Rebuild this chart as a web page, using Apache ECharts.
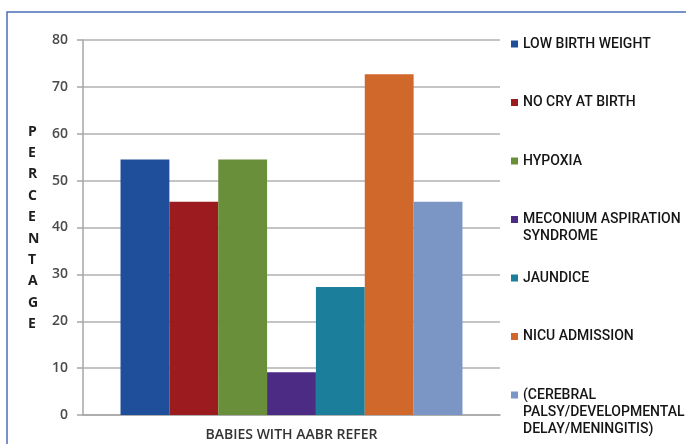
<!DOCTYPE html>
<html>
<head>
<meta charset="utf-8">
<script src="https://cdn.jsdelivr.net/npm/echarts@6/dist/echarts.min.js"></script>
<style>
  html, body { margin: 0; padding: 0; background: #ffffff; }
  #chart { width: 686px; height: 444px; }
</style>
</head>
<body>
<div id="chart"></div>
<script>
// Category on the x axis
const categories = ['BABIES WITH AABR REFER'];

// One series per risk factor (legend entries, multi-line names use \n)
const seriesNames = [
  'LOW BIRTH WEIGHT',
  'NO CRY AT BIRTH',
  'HYPOXIA',
  'MECONIUM ASPIRATION\nSYNDROME',
  'JAUNDICE',
  'NICU ADMISSION',
  '(CEREBRAL\nPALSY/DEVELOPMENTAL\nDELAY/MENINGITIS)'
];

// Percentage of babies with AABR refer result
const seriesValues = [54.5, 45.5, 54.5, 9.1, 27.3, 72.7, 45.5];

// Value axis ticks
const yMin = 0;
const yMax = 80;
const yStep = 10;

const seriesColors = ['#1f4e9b', '#9b1b1e', '#6a8f3a', '#4b2b84', '#1b7f9c', '#d0682b', '#7b95c4'];

const chart = echarts.init(document.getElementById('chart'), null, { renderer: 'canvas' });

const LINE_H = 17;
const legendFont = "Roboto, 'Liberation Sans', sans-serif";

// One legend block per entry so every marker sits on the first text line
const legends = seriesNames.map(function (name, i) {
  const lines = name.split('\n').length;
  const markerY = 44 + i * 58.5;
  return {
    show: true,
    orient: 'vertical',
    left: 511,
    top: markerY - (2 * lines - 1) * LINE_H / 2,
    data: [name],
    icon: 'rect',
    itemWidth: 7,
    itemHeight: 7,
    padding: 0,
    selectedMode: false,
    formatter: function (n) {
      const extra = n.split('\n').length - 1;
      return '\n'.repeat(extra) + n;
    },
    textStyle: {
      fontFamily: legendFont,
      fontSize: 14,
      fontWeight: 500,
      color: '#151515',
      lineHeight: LINE_H,
      padding: 0
    }
  };
});

const series = seriesNames.map(function (name, i) {
  return {
    name: name,
    type: 'bar',
    data: [seriesValues[i]],
    barGap: '0%',
    barCategoryGap: '18%',
    itemStyle: { color: seriesColors[i] },
    emphasis: { disabled: true }
  };
});

const option = {
  backgroundColor: '#ffffff',
  animation: false,
  legend: legends,
  grid: { left: 83, right: 186, top: 40, bottom: 29 },
  xAxis: {
    type: 'category',
    data: categories,
    axisLine: { show: true, lineStyle: { color: '#a6a6a6', width: 1.5 } },
    axisTick: { show: false },
    axisLabel: {
      margin: 13,
      fontFamily: "'Open Sans', sans-serif",
      fontWeight: 600,
      fontSize: 14,
      color: '#333333'
    }
  },
  yAxis: {
    type: 'value',
    min: yMin,
    max: yMax,
    interval: yStep,
    axisLine: { show: true, lineStyle: { color: '#a6a6a6', width: 1.5 } },
    axisTick: { show: true, length: 6, lineStyle: { color: '#a6a6a6', width: 1.5 } },
    splitLine: { show: true, lineStyle: { color: '#b0b0b0', width: 1.5 } },
    axisLabel: {
      margin: 15,
      fontFamily: "'Open Sans', sans-serif",
      fontWeight: 600,
      fontSize: 14,
      color: '#4a4a4a'
    }
  },
  graphic: [
    {
      type: 'rect',
      silent: true,
      shape: { x: 7, y: 12, width: 700, height: 460 },
      style: { fill: 'none', stroke: '#4a6fb8', lineWidth: 1.5 }
    },
    {
      type: 'text',
      silent: true,
      left: 28,
      top: 121,
      style: {
        text: 'PERCENTAGE'.split('').join('\n'),
        fontFamily: "'Open Sans', sans-serif",
        fontWeight: 'bold',
        fontSize: 14,
        lineHeight: 21.4,
        fill: '#1e1e1e',
        align: 'center'
      }
    }
  ],
  series: series
};

chart.setOption(option);
</script>
</body>
</html>
